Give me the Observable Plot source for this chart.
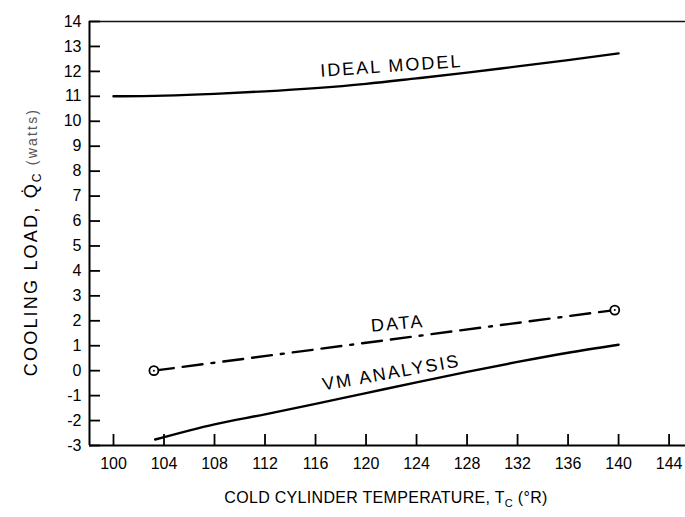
<!DOCTYPE html>
<html>
<head>
<meta charset="utf-8">
<script src="https://cdn.jsdelivr.net/npm/d3@7"></script>
<script src="https://cdn.jsdelivr.net/npm/@observablehq/plot@0.6"></script>
<style>
  body { margin: 0; background: #fff; }
  svg { display: block; }
</style>
</head>
<body>
<div id="chart"></div>
<script>
// Cold cylinder temperature (°R) vs. cooling load (watts)
const xTicks = [100, 104, 108, 112, 116, 120, 124, 128, 132, 136, 140, 144];
const yTicks = [-3, -2, -1, 0, 1, 2, 3, 4, 5, 6, 7, 8, 9, 10, 11, 12, 13, 14];

// Ideal model curve
const idealT = [100, 104, 108, 112, 116, 120, 124, 128, 132, 136, 140];
const idealQ = [11.0, 11.03, 11.1, 11.2, 11.33, 11.5, 11.72, 11.95, 12.2, 12.45, 12.72];

// Measured data (two end points)
const dataT = [103.2, 139.7];
const dataQ = [0, 2.43];

// VM analysis curve
const vmT = [103.3, 108, 112, 116, 120, 124, 128, 132, 136, 140];
const vmQ = [-2.76, -2.15, -1.75, -1.33, -0.9, -0.47, -0.05, 0.35, 0.72, 1.04];

// Curve labels, placed along each curve at the given temperature
const labelNames = ["IDEAL MODEL", "DATA", "VM ANALYSIS"];
const labelT = 122;

const zip = (ts, qs) => ts.map((t, i) => ({t, q: qs[i]}));
const ideal = zip(idealT, idealQ);
const data = zip(dataT, dataQ);
const vm = zip(vmT, vmQ);

// linear interpolation along a series to sit a label on it
function along(series, t) {
  for (let i = 1; i < series.length; i++) {
    const a = series[i - 1], b = series[i];
    if (t <= b.t) return a.q + (b.q - a.q) * (t - a.t) / (b.t - a.t);
  }
  return series[series.length - 1].q;
}
const labels = [
  {name: labelNames[0], t: labelT, q: along(ideal, labelT), rot: -4},
  {name: labelNames[1], t: labelT + 0.5, q: along(data, labelT + 0.5), rot: -5},
  {name: labelNames[2], t: labelT, q: along(vm, labelT), rot: -10}
];

const W = 685, H = 517;
const mL = 89, mR = 0, mT = 21, mB = 72;
const xDom = [98.1, 145.3], yDom = [-3, 14];
// tick lengths in pixels, converted to data units for the rule marks
const tickPx = 11;
const xUnit = (W - mL - mR) / (xDom[1] - xDom[0]);
const yUnit = (H - mT - mB) / (yDom[1] - yDom[0]);

const font = "'Liberation Sans', Arial, sans-serif";

const chart = Plot.plot({
  width: W,
  height: H,
  marginLeft: mL,
  marginRight: mR,
  marginTop: mT,
  marginBottom: mB,
  x: {domain: xDom},
  y: {domain: yDom},
  style: {fontFamily: font, color: "#000", background: "#fff"},
  marks: [
    // frame: left axis, bottom axis, top border
    Plot.ruleX([xDom[0]], {y1: yDom[0], y2: yDom[1], stroke: "#000", strokeWidth: 2}),
    Plot.ruleY([yDom[0]], {stroke: "#000", strokeWidth: 2}),
    Plot.ruleY([yDom[1]], {stroke: "#111", strokeWidth: 1.5}),
    // inward tick marks
    Plot.ruleX(xTicks, {x: d => d, y1: yDom[0], y2: yDom[0] + tickPx / yUnit, stroke: "#000", strokeWidth: 1.8}),
    Plot.ruleY(yTicks, {y: d => d, x1: xDom[0], x2: xDom[0] + tickPx / xUnit, stroke: "#000", strokeWidth: 1.8}),
    // tick labels
    Plot.axisX(xTicks, {tickSize: 0, tickPadding: 12, fontSize: 16, label: null, tickFormat: d => String(d)}),
    Plot.axisY(yTicks, {tickSize: 0, tickPadding: 8, fontSize: 16, label: null, tickFormat: d => (d < 0 ? "-" + Math.abs(d) : String(d))}),
    // curves
    Plot.line(ideal, {x: "t", y: "q", stroke: "#000", strokeWidth: 2.4, curve: "monotone-x"}),
    Plot.line(vm, {x: "t", y: "q", stroke: "#000", strokeWidth: 2.4, curve: "monotone-x"}),
    Plot.line(data, {x: "t", y: "q", stroke: "#000", strokeWidth: 2.4, strokeDasharray: "20,9,20,9,3,9"}),
    Plot.dot(data, {x: "t", y: "q", r: 4.5, fill: "#fff", stroke: "#000", strokeWidth: 1.8}),
    Plot.dot(data, {x: "t", y: "q", r: 1, fill: "#000"}),
    // curve labels
    Plot.text(labels, {x: "t", y: "q", text: "name", rotate: "rot", dy: -15, fontSize: 18, fill: "#000", fontFamily: font})
  ]
});

document.getElementById("chart").append(chart);

// wider letter spacing on the curve labels
d3.select(chart).selectAll("text")
  .filter(function () { return labelNames.includes(this.textContent); })
  .attr("letter-spacing", 2);

// axis titles
const svg = d3.select(chart);
const xt = svg.append("text")
  .attr("x", 386).attr("y", 503)
  .attr("text-anchor", "middle")
  .attr("font-size", 16).attr("font-family", font)
  .attr("letter-spacing", 0.3)
  .attr("fill", "#000");
xt.append("tspan").text("COLD CYLINDER TEMPERATURE, T");
xt.append("tspan").attr("font-size", 11).attr("dy", 4).text("C");
xt.append("tspan").attr("dy", -4).text(" (°R)");

const yt = svg.append("text")
  .attr("transform", "translate(37,242) rotate(-90)")
  .attr("text-anchor", "middle")
  .attr("font-size", 18).attr("font-family", font)
  .attr("letter-spacing", 2.2)
  .attr("fill", "#000");
yt.append("tspan").text("COOLING LOAD, Q\u0307");
yt.append("tspan").attr("font-size", 12).attr("dy", 4).text("C");
yt.append("tspan").attr("dy", -4).attr("font-size", 14).attr("fill", "#555").text(" (watts)");
</script>
</body>
</html>
